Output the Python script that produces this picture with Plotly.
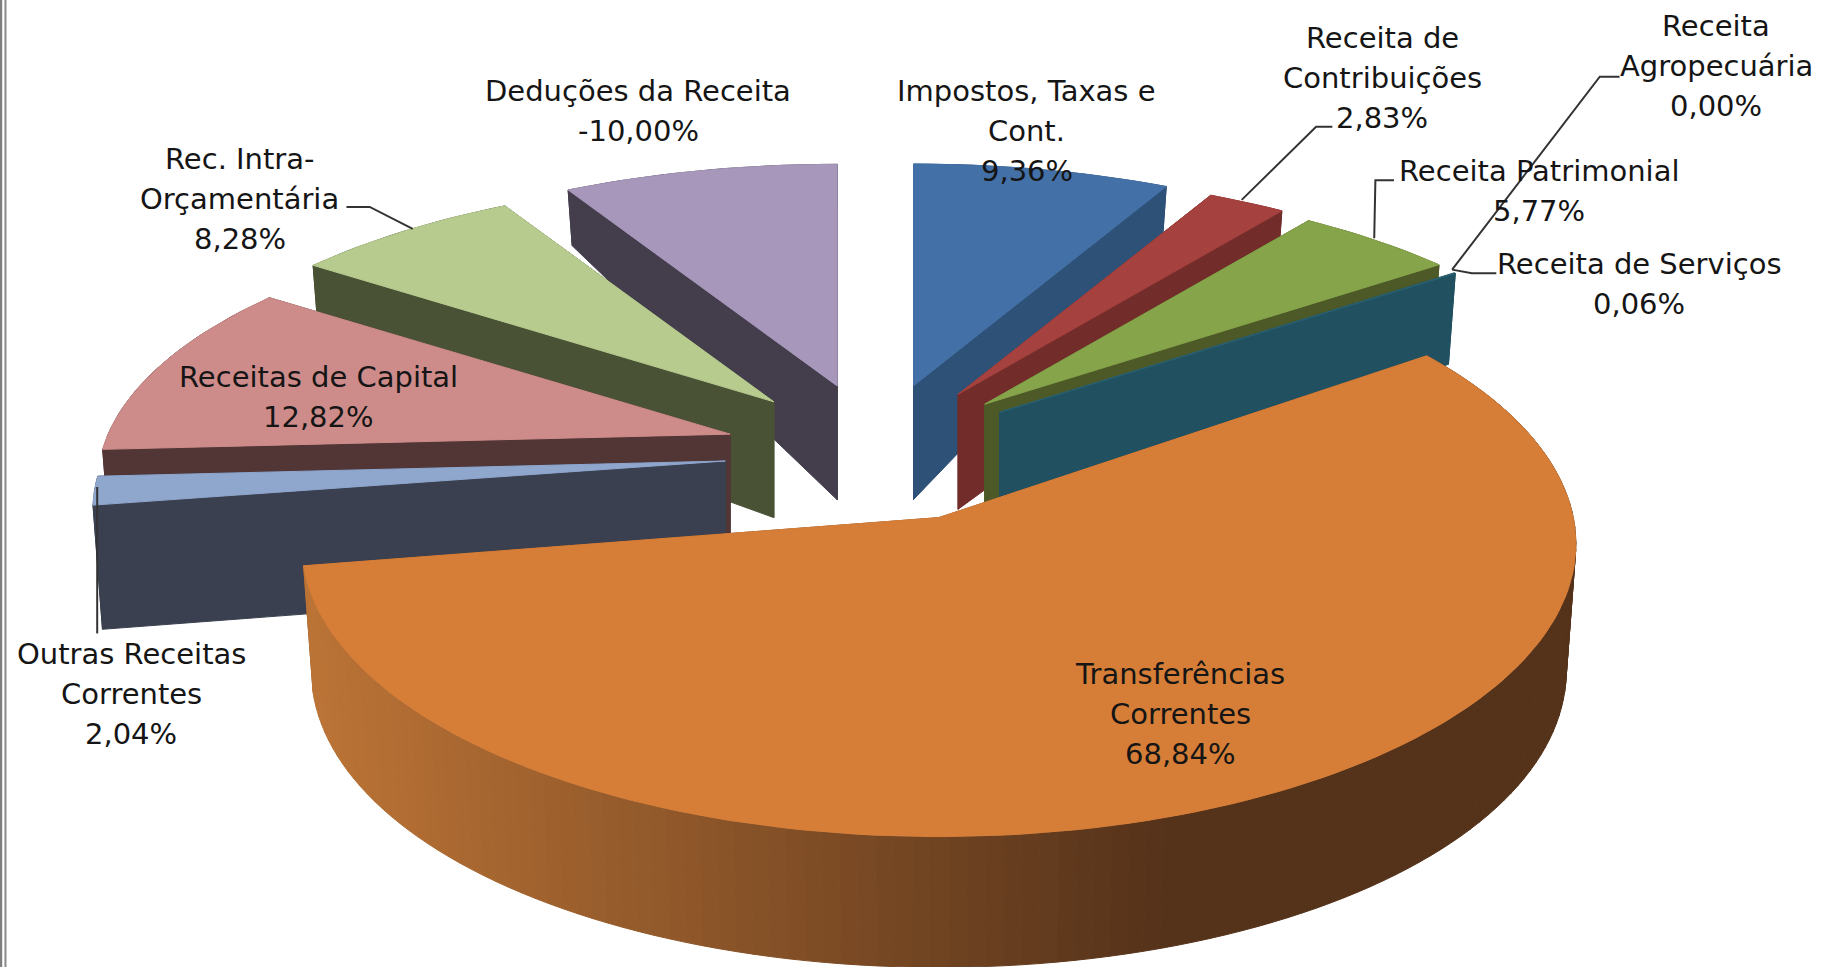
import math
import plotly.graph_objects as go

# ---- data ----
categories = ["Impostos, Taxas e Cont.", "Receita de Contribuições", "Receita Patrimonial",
              "Receita de Serviços", "Receita Agropecuária", "Transferências Correntes",
              "Outras Receitas Correntes", "Receitas de Capital", "Rec. Intra-Orçamentária",
              "Deduções da Receita"]
values = [9.36, 2.83, 5.77, 0.06, 0.00, 68.84, 2.04, 12.82, 8.28, -10.00]
top_colors = ["#4370a6", "#a5413e", "#86a44a", "#2a6172", "#6f5a91", "#d67e38",
              "#8fa6cd", "#cd8c8a", "#b7cb8f", "#a697bb"]
wall_colors = ["#2e5178", "#722d2b", "#4d5a28", "#215160", "#4a3c62", "#8a5228",
               "#3a404f", "#523636", "#4a5236", "#433d4c"]
label_lines = [["Impostos, Taxas e", "Cont."], ["Receita de", "Contribuições"],
               ["Receita Patrimonial"], ["Receita de Serviços"], ["Receita", "Agropecuária"],
               ["Transferências", "Correntes"], ["Outras Receitas", "Correntes"],
               ["Receitas de Capital"], ["Rec. Intra-", "Orçamentária"], ["Deduções da Receita"]]
label_centres = [(883, 78), (1189, 33), (1324, 147), (1410, 227), (1476, 22),
                 (1015, 580), (113, 563), (274, 324), (206, 137), (549, 78)]
leaders = [
    ([1068, 1132, 1146], [172, 109, 109]),
    ([1182, 1183, 1199], [205, 155, 155]),
    ([1249, 1376, 1393], [232, 66, 66]),
    ([1249, 1266, 1287], [232, 235, 235]),
    ([83.6, 83.6], [419, 545]),
    ([355, 318, 298], [197, 178, 178]),
]
# per-slice corrections: (x shift, x radius factor, y radius factor, perspective)
slice_fit = {5: (3, 1.02, 1.11, 0.09)}

# ---- projection of the exploded, tilted pie (drawing units = reference / 1.1626) ----
CX, CY = 754, 390
PULL_X, PULL_Y = 131, 60
R, KR, PERSP = 535, 225, 0.18
HMAX, HY0, HFALL = 113, 100, 115
BOTTOM_SHRINK = 0.985
DEFAULT_FIT = (0, 1, 1, PERSP)


def height(y):
    return HMAX * (1 - math.exp(-max(y - HY0, 0) / HFALL))


def rim(ax, ay, theta, fx, fy, persp):
    s, c = math.sin(theta), math.cos(theta)
    f = 1 / (1 + persp * c)
    return ax + R * fx * s * f, ay - KR * fy * c * f


def poly(fig, xs, ys, color):
    fig.add_trace(go.Scatter(x=xs + xs[:1], y=ys + ys[:1], mode="lines", fill="toself",
                             fillcolor=color, line=dict(color=color, width=1),
                             hoverinfo="skip", showlegend=False))


def lerp_hex(a, b, t):
    t = max(0, min(1, t))
    ca = [int(a[i:i + 2], 16) for i in (1, 3, 5)]
    cb = [int(b[i:i + 2], 16) for i in (1, 3, 5)]
    return "#%02x%02x%02x" % tuple(round(p + (q - p) * t) for p, q in zip(ca, cb))


total = sum(abs(v) for v in values)
slices = []
start = 0.0
for i, v in enumerate(values):
    sweep = abs(v) / total * 2 * math.pi
    mid = start + sweep / 2
    dx = slice_fit.get(i, DEFAULT_FIT)[0]
    slices.append(dict(i=i, t0=start, t1=start + sweep,
                       ax=CX + dx + PULL_X * math.sin(mid), ay=CY - PULL_Y * math.cos(mid)))
    start += sweep

fig = go.Figure()
for sl in sorted(slices, key=lambda d: d["ay"]):
    i = sl["i"]
    if values[i] == 0:
        continue
    ax, ay, t0, t1 = sl["ax"], sl["ay"], sl["t0"], sl["t1"]
    _, fx, fy, persp = slice_fit.get(i, DEFAULT_FIT)
    n = max(2, int((t1 - t0) / math.radians(1.5)))
    arc = [rim(ax, ay, t0 + (t1 - t0) * k / n, fx, fy, persp) for k in range(n + 1)]
    low = [(ax + (p[0] - ax) * BOTTOM_SHRINK, p[1] + height(p[1])) for p in arc]
    gradient = values[i] > 50
    # radial faces
    for p, q in ((arc[0], low[0]), (arc[-1], low[-1])):
        poly(fig, [ax, p[0], q[0], ax], [ay, p[1], q[1], ay + height(ay)], wall_colors[i])
    # outer face
    if gradient:
        for k in range(n):
            a, b, la, lb = arc[k], arc[k + 1], low[k], low[k + 1]
            col = lerp_hex("#bc7436", "#55321a", ((a[0] + b[0]) / 2 - 260) / (1000 - 260))
            poly(fig, [a[0], b[0], lb[0], la[0]], [a[1], b[1], lb[1], la[1]], col)
    else:
        poly(fig, [p[0] for p in arc] + [p[0] for p in reversed(low)],
             [p[1] for p in arc] + [p[1] for p in reversed(low)], wall_colors[i])
    # top face
    poly(fig, [ax] + [p[0] for p in arc], [ay] + [p[1] for p in arc], top_colors[i])

for xs, ys in leaders:
    fig.add_trace(go.Scatter(x=xs, y=ys, mode="lines", line=dict(color="#333333", width=2),
                             hoverinfo="skip", showlegend=False))

LINE_STEP = 34.4
annotations = []
for lines, (lx, ly), v in zip(label_lines, label_centres, values):
    text_lines = lines + [f"{v:.2f}%".replace(".", ",")]
    for k, t in enumerate(text_lines):
        annotations.append(dict(x=lx, y=ly + k * LINE_STEP, text=t, showarrow=False,
                                xanchor="center", yanchor="middle",
                                font=dict(family="DejaVu Sans", size=29, color="#151515")))

fig.update_layout(
    width=1823, height=967, margin=dict(l=0, r=0, t=0, b=0),
    paper_bgcolor="white", plot_bgcolor="white", showlegend=False,
    xaxis=dict(range=[0, 1568], visible=False, fixedrange=True),
    yaxis=dict(range=[832, 0], visible=False, fixedrange=True),
    annotations=annotations,
    shapes=[
        dict(type="line", xref="x", yref="y", x0=0.6, x1=0.6, y0=0, y1=832,
             line=dict(color="#7f7f7f", width=3)),
        dict(type="line", xref="x", yref="y", x0=4.7, x1=4.7, y0=0, y1=832,
             line=dict(color="#8a8a8a", width=2)),
    ],
)
fig.write_html("out.html", config=dict(displayModeBar=False),
               post_script="document.body.style.margin='0';"
                           "document.documentElement.style.overflow='hidden';")
